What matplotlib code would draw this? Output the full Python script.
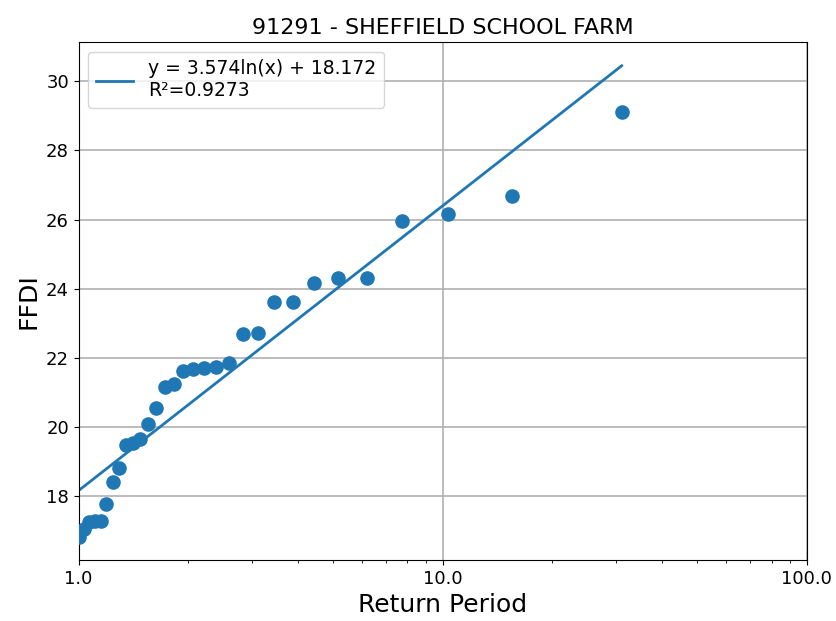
import numpy as np
import matplotlib
matplotlib.use('Agg')
from matplotlib import pyplot as plt
from matplotlib.ticker import FormatStrFormatter

plt.rcParams.update({'font.size': 13})

# annual maxima ranked, return period = n / rank
n_years = 31
ranks = np.arange(1, n_years + 1)
return_period = n_years / ranks
ffdi = [29.10, 26.67, 26.17, 25.97, 24.32, 24.30, 24.17, 23.63, 23.63, 22.72,
        22.70, 21.85, 21.74, 21.72, 21.68, 21.62, 21.25, 21.17, 20.56, 20.08,
        19.66, 19.55, 19.48, 18.81, 18.42, 17.77, 17.29, 17.28, 17.26, 17.05,
        16.84]

slope = 3.574
intercept = 18.172
r2 = 0.9273

fit_x = np.linspace(1, return_period.max(), 200)
fit_y = slope * np.log(fit_x) + intercept

fig, ax = plt.subplots(figsize=(8.37, 6.21), dpi=100)
fig.subplots_adjust(left=0.094, right=0.964, top=0.932, bottom=0.098)

ax.scatter(return_period, ffdi, s=90, color='#1f77b4', zorder=3)
ax.plot(fit_x, fit_y, color='#1f77b4', linewidth=2,
        label='y = %.3fln(x) + %.3f\nR²=%.4f' % (slope, intercept, r2))

ax.set_xscale('log')
ax.set_xlim(1, 100)
ax.xaxis.set_major_formatter(FormatStrFormatter('%.1f'))
ax.grid(True, which='major', color='#b0b0b0', linewidth=1.2)
ax.set_axisbelow(True)

ax.set_title('91291 - SHEFFIELD SCHOOL FARM', fontsize=16)
ax.set_xlabel('Return Period', fontsize=18)
ax.set_ylabel('FFDI', fontsize=18)
ax.legend(loc='upper left', fontsize=13.5)

plt.savefig('out.png')
